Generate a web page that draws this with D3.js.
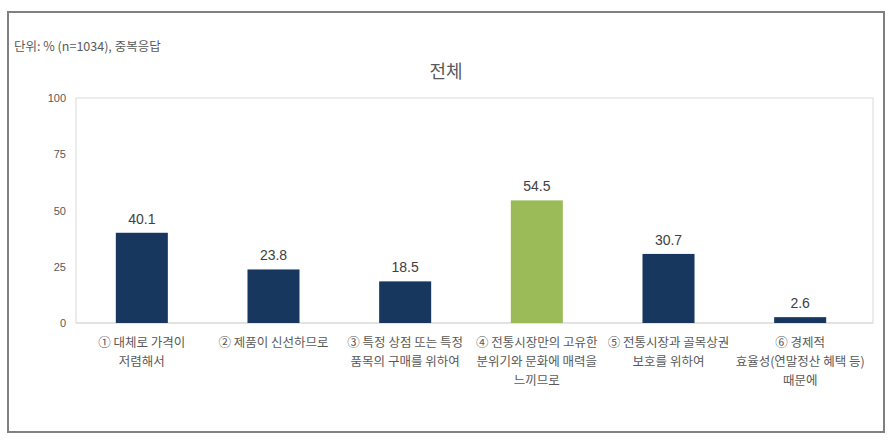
<!DOCTYPE html>
<html><head><meta charset="utf-8">
<script src="https://cdn.jsdelivr.net/npm/d3@7"></script>
<style>body{margin:0;background:#fff;}svg{display:block;font-family:"Noto Sans CJK KR","Noto Sans",sans-serif;}</style>
</head><body><svg id="c" width="894" height="443"></svg>
<script>
const categories = [
  ["① 대체로 가격이","저렴해서"],
  ["② 제품이 신선하므로"],
  ["③ 특정 상점 또는 특정","품목의 구매를 위하여"],
  ["④ 전통시장만의 고유한","분위기와 문화에 매력을","느끼므로"],
  ["⑤ 전통시장과 골목상권","보호를 위하여"],
  ["⑥ 경제적","효율성(연말정산 혜택 등)","때문에"]
];
const values = [40.1, 23.8, 18.5, 54.5, 30.7, 2.6];
const highlight = [false, false, false, true, false, false];
const yTicks = [0, 25, 50, 75, 100];
const title = "전체";
const unitLabel = "단위: % (n=1034), 중복응답";

const svg = d3.select("#c");
svg.append("rect").attr("x",8).attr("y",12).attr("width",876).attr("height",420)
  .attr("fill","#fff").attr("stroke","#808080").attr("stroke-width",2);

const m = {l:76, r:873, t:98, b:323};
const x = d3.scaleBand().domain(d3.range(values.length)).range([m.l, 866]).paddingInner(0.605).paddingOuter(0.3025);
const y = d3.scaleLinear().domain([0,100]).range([m.b, m.t]);

svg.append("rect").attr("x",m.l).attr("y",m.t).attr("width",m.r-m.l).attr("height",m.b-m.t)
  .attr("fill","none").attr("stroke","#d9d9d9").attr("stroke-width",1);

const ya = d3.axisLeft(y).tickValues(yTicks).tickSize(0).tickPadding(10);
const yg = svg.append("g").attr("transform",`translate(${m.l},0)`).call(ya);
yg.select(".domain").remove();
yg.selectAll("text").attr("fill","#595959").style("font-size","11px").style("font-family","'Liberation Sans',Arial,sans-serif");

svg.append("line").attr("x1",m.l).attr("x2",m.r).attr("y1",m.b).attr("y2",m.b).attr("stroke","#d9d9d9");

svg.selectAll("rect.bar").data(values).join("rect").attr("class","bar")
  .attr("x",(d,i)=>x(i)).attr("width",x.bandwidth())
  .attr("y",d=>y(d)).attr("height",d=>y(0)-y(d))
  .attr("fill",(d,i)=>highlight[i]?"#9BBB59":"#17375E");

svg.selectAll("text.val").data(values).join("text").attr("class","val")
  .attr("x",(d,i)=>x(i)+x.bandwidth()/2).attr("y",d=>y(d)-9)
  .attr("text-anchor","middle").attr("fill","#404040").style("font-size","14px")
  .style("font-family","'Liberation Sans',Arial,sans-serif").text(d=>d.toFixed(1));

const cg = svg.selectAll("text.cat").data(categories).join("text").attr("class","cat")
  .attr("text-anchor","middle").attr("fill","#595959").style("font-size","12.5px");
cg.each(function(lines,i){
  const t = d3.select(this);
  lines.forEach((s,j)=>{
    t.append("tspan").attr("x",x(i)+x.bandwidth()/2).attr("y",347+j*19).text(s);
  });
});

svg.append("text").attr("x",446).attr("y",78).attr("text-anchor","middle")
  .attr("fill","#595959").style("font-size","18px").text(title);
svg.append("text").attr("x",14).attr("y",51).attr("fill","#595959").style("font-size","12.5px").text(unitLabel);
</script></body></html>
